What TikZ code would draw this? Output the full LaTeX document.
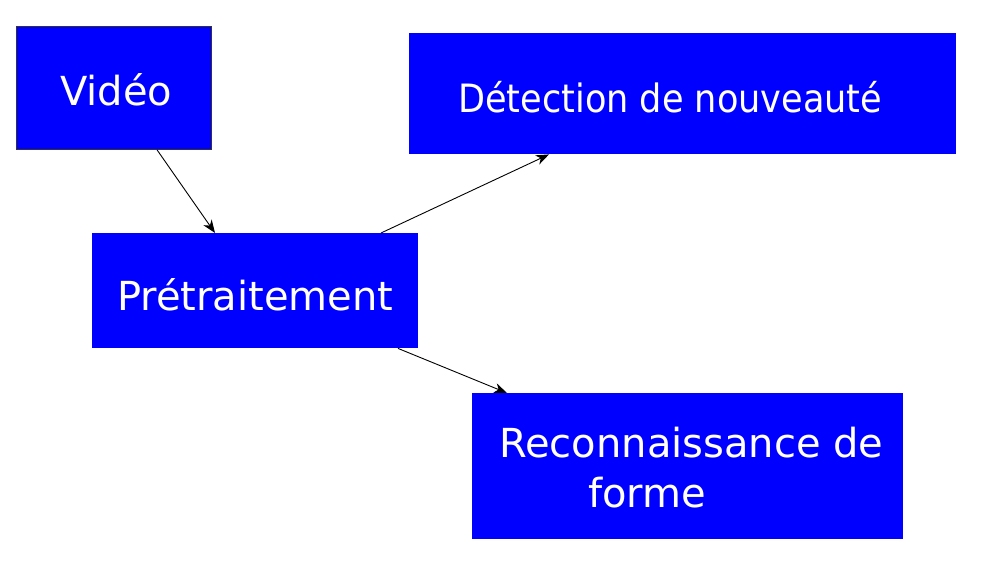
\documentclass[tikz,border=0pt]{standalone}
\usepackage{fontspec}
\setmainfont{DejaVu Sans}
\newfontfamily\condfont{DejaVu Sans Condensed}
\usetikzlibrary{arrows.meta, positioning}
\definecolor{boxblue}{RGB}{0,0,255}
\tikzset{
  box/.style={draw=none, fill=boxblue, anchor=north west, inner sep=0pt},
  lbl/.style={text=white, anchor=base west, inner sep=0pt, font=\fontsize{40}{48}\selectfont},
  link/.style={-{Stealth[length=13pt,width=10pt,inset=4pt]}, line width=0.9pt}
}

\begin{document}
\begin{tikzpicture}[x=1pt,y=-1pt]
\useasboundingbox (0,0) rectangle (981,578);

% boxes
\node[box, draw=black!80, line width=0.8pt, minimum width=195pt, minimum height=123pt] (video) at (16,26) {};
\node[box, minimum width=547pt, minimum height=121pt] (detect) at (409,33) {};
\node[box, minimum width=326pt, minimum height=115pt] (pretrt) at (92,233) {};
\node[box, minimum width=431pt, minimum height=146pt] (recog) at (472,393) {};

% labels
\node[lbl] (videotxt) at (60,105) {Vidéo};
\node[lbl, font=\condfont\fontsize{39}{48}\selectfont] (detecttxt) at (458,112) {Détection de nouveauté};
\node[lbl] (pretrttxt) at (117,310) {Prétraitement};
\node[lbl] (recogtxt) at (499,457) {Reconnaissance de};
\node[lbl] (formetxt) at (588,507) {forme};

% arrows
\draw[link] ([xshift=141pt]video.south west) -- ([xshift=123pt]pretrt.north west);
\draw[link] ([xshift=289pt]pretrt.north west) -- ([xshift=140pt]detect.south west);
\draw[link] ([xshift=306pt]pretrt.south west) -- ([xshift=35pt]recog.north west);
\end{tikzpicture}
\end{document}
